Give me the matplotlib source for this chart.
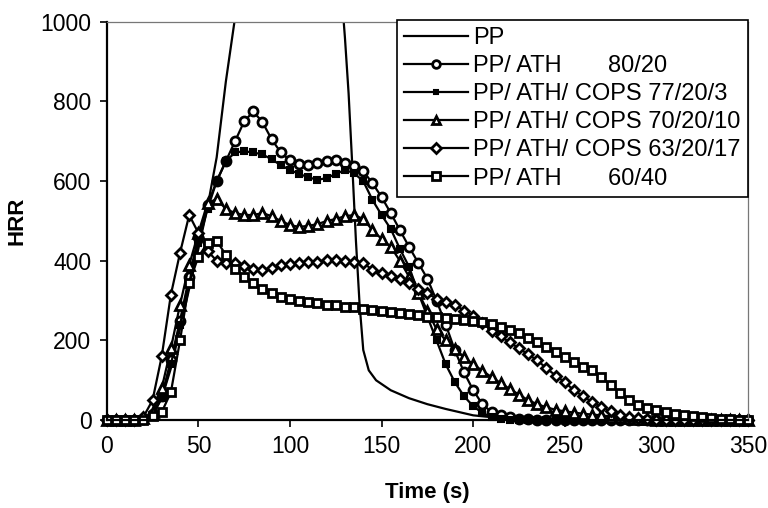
import numpy as np
import matplotlib
matplotlib.use("Agg")
import matplotlib.pyplot as plt

plt.rcParams['font.family'] = ['Liberation Sans', 'DejaVu Sans']

# time grid (s) for the filled-polymer series
t = list(range(0, 355, 5))

# neat PP: own time points (goes off scale above 1000)
pp_t = [0, 10, 20, 25, 30, 35, 40, 45, 50, 55, 60, 65, 70, 75, 80, 90, 100, 110,
        120, 125, 128, 130, 132, 134, 136, 138, 140, 143, 147, 155, 165, 175, 185,
        200, 215, 230, 250, 300, 350]
pp_v = [0, 0, 2, 15, 55, 130, 230, 330, 430, 535, 660, 850, 1010, 1250, 1450, 1650,
        1700, 1650, 1450, 1250, 1080, 960, 820, 640, 450, 290, 176, 125, 100, 75, 55,
        40, 28, 12, 5, 2, 0, 0, 0]

ath_80_20 = [0, 0, 0, 0, 3, 15, 60, 150, 250, 360,
             460, 540, 600, 650, 700, 750, 775, 748, 705, 672,
             652, 642, 640, 645, 650, 652, 645, 637, 625, 595,
             560, 520, 477, 435, 395, 355, 300, 240, 175, 120,
             75, 40, 20, 12, 7, 4, 2, 1, 0, 0,
             0, 0, 0, 0, 0, 0, 0, 0, 0, 0,
             0, 0, 0, 0, 0, 0, 0, 0, 0, 0,
             0]

cops_77_20_3 = [0, 0, 0, 0, 3, 12, 55, 140, 240, 345,
                445, 530, 600, 650, 672, 675, 672, 667, 655, 640,
                628, 618, 610, 603, 608, 618, 628, 620, 600, 553,
                515, 480, 430, 385, 320, 260, 200, 140, 95, 60,
                35, 18, 8, 3, 1, 0, 0, 0, 0, 0,
                0, 0, 0, 0, 0, 0, 0, 0, 0, 0,
                0, 0, 0, 0, 0, 0, 0, 0, 0, 0,
                0]

cops_70_20_10 = [0, 0, 0, 0, 5, 20, 80, 180, 290, 390,
                 470, 545, 555, 530, 520, 515, 515, 520, 512, 500,
                 490, 485, 488, 492, 500, 505, 512, 515, 505, 477,
                 455, 435, 400, 360, 320, 275, 228, 200, 178, 158,
                 140, 124, 108, 93, 78, 64, 50, 40, 32, 26,
                 22, 19, 16, 14, 12, 9, 7, 5, 3, 2,
                 1, 0, 0, 0, 0, 0, 0, 0, 0, 0,
                 0]

cops_63_20_17 = [0, 0, 0, 0, 8, 50, 160, 315, 420, 515,
                 470, 425, 400, 395, 394, 388, 380, 377, 382, 390,
                 392, 394, 396, 398, 402, 401, 400, 398, 395, 377,
                 370, 362, 355, 345, 330, 318, 305, 297, 290, 275,
                 262, 245, 225, 210, 195, 180, 165, 150, 130, 112,
                 95, 75, 60, 45, 33, 22, 14, 9, 5, 3,
                 1, 0, 0, 0, 0, 0, 0, 0, 0, 0,
                 0]

ath_60_40 = [0, 0, 0, 0, 0, 10, 20, 70, 200, 345,
             410, 445, 450, 415, 380, 360, 345, 330, 320, 310,
             305, 300, 296, 294, 290, 288, 285, 283, 278, 276,
             274, 271, 270, 266, 263, 260, 258, 256, 254, 252,
             250, 246, 242, 235, 227, 219, 207, 195, 183, 170,
             158, 146, 133, 125, 108, 88, 68, 50, 38, 30,
             25, 20, 16, 13, 10, 7, 5, 3, 2, 1,
             0]

labels = ['PP', 'PP/ ATH       80/20', 'PP/ ATH/ COPS 77/20/3',
          'PP/ ATH/ COPS 70/20/10', 'PP/ ATH/ COPS 63/20/17', 'PP/ ATH       60/40']

fig = plt.figure(figsize=(7.68, 5.08), dpi=100)
ax = fig.add_axes([0.139, 0.173, 0.835, 0.784])

ax.plot(pp_t, pp_v, color='black', lw=1.6, label=labels[0])
ax.plot(t, ath_80_20, color='black', lw=1.6, marker='o', ms=6.5, mfc='white',
        mew=2, label=labels[1], clip_on=False)
ax.plot(t, cops_77_20_3, color='black', lw=1.6, marker='s', ms=4, mfc='black',
        mew=1.5, label=labels[2], clip_on=False)
ax.plot(t, cops_70_20_10, color='black', lw=1.6, marker='^', ms=6.5, mfc='white',
        mew=2, label=labels[3], clip_on=False)
ax.plot(t, cops_63_20_17, color='black', lw=1.6, marker='D', ms=5.5, mfc='white',
        mew=2, label=labels[4], clip_on=False)
ax.plot(t, ath_60_40, color='black', lw=1.6, marker='s', ms=6, mfc='white',
        mew=2, label=labels[5], clip_on=False)

ax.set_xlim(0, 350)
ax.set_ylim(0, 1000)
ax.set_xticks(range(0, 351, 50))
ax.set_yticks(range(0, 1001, 200))
ax.tick_params(direction='out', length=5, width=1.2, labelsize=16.5, pad=6)

for s in ['left', 'bottom']:
    ax.spines[s].set_linewidth(1.6)
for s in ['top', 'right']:
    ax.spines[s].set_linewidth(0.9)
    ax.spines[s].set_color('#777777')

ax.set_xlabel('Time (s)', fontsize=16, fontweight='bold', labelpad=17)
ax.set_ylabel('HRR', fontsize=16, fontweight='bold', labelpad=9)

leg = ax.legend(loc='upper right', bbox_to_anchor=(1.0, 1.005), borderaxespad=0,
                fontsize=17, frameon=True, fancybox=False, edgecolor='black',
                handlelength=2.7, handletextpad=0.25, labelspacing=0.26,
                borderpad=0.3, markerscale=0.85)
leg.get_frame().set_linewidth(1.2)
leg.get_frame().set_alpha(1)

fig.savefig('out.png', dpi=100)
